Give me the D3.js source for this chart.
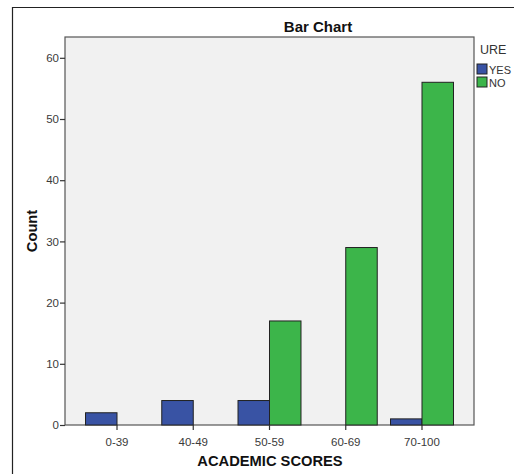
<!DOCTYPE html>
<html>
<head>
<meta charset="utf-8">
<script src="https://cdn.jsdelivr.net/npm/d3@7"></script>
<style>
  body { margin: 0; background: #fff; }
  text { font-family: Arial, "Liberation Sans", sans-serif; }
</style>
</head>
<body>
<div id="chart"></div>
<script>
var categories = ["0-39", "40-49", "50-59", "60-69", "70-100"];
var series = ["YES", "NO"];
var yesValues = [2, 4, 4, 0, 1];
var noValues = [0, 0, 17, 29, 56];
var yTicks = [0, 10, 20, 30, 40, 50, 60];
var colors = { YES: "#3953a4", NO: "#3cb54a" };

var width = 514, height = 475;
var plot = { left: 65, right: 474, top: 37, bottom: 425 };

var svg = d3.select("#chart").append("svg")
  .attr("width", width)
  .attr("height", height);

// outer frame (cropped on right/bottom)
svg.append("path")
  .attr("d", "M12.5,474 L12.5,7.5 L514,7.5")
  .attr("fill", "none")
  .attr("stroke", "#222")
  .attr("stroke-width", 1.2);

var data = categories.map(function(c, i) {
  return { cat: c, YES: yesValues[i], NO: noValues[i] };
});

var x0 = d3.scaleBand()
  .domain(categories)
  .range([plot.left, plot.right])
  .paddingInner(0.174)
  .paddingOuter(0.269);

var x1 = d3.scaleBand()
  .domain(series)
  .range([0, x0.bandwidth()]);

var y = d3.scaleLinear()
  .domain([0, 63.4])
  .range([plot.bottom, plot.top]);

// plot background
svg.append("rect")
  .attr("x", plot.left)
  .attr("y", plot.top)
  .attr("width", plot.right - plot.left)
  .attr("height", plot.bottom - plot.top)
  .attr("fill", "#f1f1f1")
  .attr("stroke", "#555")
  .attr("stroke-width", 1.2);

// bars
var groups = svg.append("g").selectAll("g")
  .data(data)
  .join("g")
  .attr("transform", function(d) { return "translate(" + x0(d.cat) + ",0)"; });

groups.selectAll("rect")
  .data(function(d) {
    return series.map(function(s) { return { key: s, value: d[s] }; })
      .filter(function(e) { return e.value > 0; });
  })
  .join("rect")
  .attr("x", function(d) { return x1(d.key); })
  .attr("y", function(d) { return y(d.value); })
  .attr("width", x1.bandwidth())
  .attr("height", function(d) { return y(0) - y(d.value); })
  .attr("fill", function(d) { return colors[d.key]; })
  .attr("stroke", "#222")
  .attr("stroke-width", 1);

// x axis
var xAxis = svg.append("g")
  .attr("transform", "translate(0," + plot.bottom + ")")
  .call(d3.axisBottom(x0).tickSize(5).tickSizeOuter(0));
xAxis.select(".domain").remove();
xAxis.selectAll("line").attr("stroke", "#333").attr("stroke-width", 1.2);
xAxis.selectAll("text")
  .attr("dy", "1.1em")
  .style("font-size", "11.5px")
  .style("fill", "#3a3a3a");

// y axis
var yAxis = svg.append("g")
  .attr("transform", "translate(" + plot.left + ",0)")
  .call(d3.axisLeft(y).tickValues(yTicks).tickSize(5).tickSizeOuter(0));
yAxis.select(".domain").remove();
yAxis.selectAll("line").attr("stroke", "#333").attr("stroke-width", 1.2);
yAxis.selectAll("text")
  .attr("x", -6)
  .style("font-size", "11.5px")
  .style("fill", "#3a3a3a");

// titles
svg.append("text")
  .attr("x", 318)
  .attr("y", 32)
  .attr("text-anchor", "middle")
  .style("font-size", "15px")
  .style("font-weight", "bold")
  .style("fill", "#111")
  .text("Bar Chart");

svg.append("text")
  .attr("x", 270)
  .attr("y", 466)
  .attr("text-anchor", "middle")
  .style("font-size", "14.7px")
  .style("font-weight", "bold")
  .style("fill", "#111")
  .text("ACADEMIC SCORES");

svg.append("text")
  .attr("transform", "translate(37," + ((plot.top + plot.bottom) / 2) + ") rotate(-90)")
  .attr("text-anchor", "middle")
  .style("font-size", "14.7px")
  .style("font-weight", "bold")
  .style("fill", "#111")
  .text("Count");

// legend
var legend = svg.append("g").attr("transform", "translate(477,0)");
legend.append("text")
  .attr("x", 3)
  .attr("y", 54)
  .style("font-size", "12.5px")
  .style("fill", "#333")
  .text("URE");
var items = legend.selectAll("g.item")
  .data(series)
  .join("g")
  .attr("class", "item")
  .attr("transform", function(d, i) { return "translate(0," + (64 + i * 13) + ")"; });
items.append("rect")
  .attr("width", 10)
  .attr("height", 10)
  .attr("fill", function(d) { return colors[d]; })
  .attr("stroke", "#222")
  .attr("stroke-width", 1);
items.append("text")
  .attr("x", 12)
  .attr("y", 9.5)
  .style("font-size", "11px")
  .style("fill", "#333")
  .text(function(d) { return d; });
</script>
</body>
</html>
